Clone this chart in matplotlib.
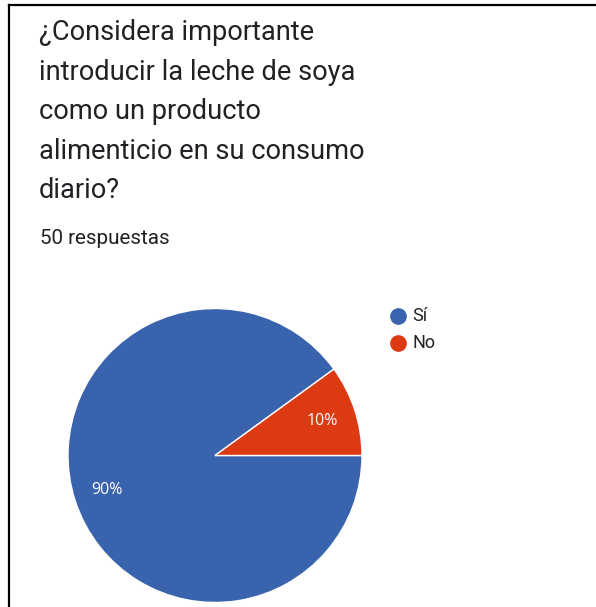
import matplotlib
matplotlib.use("Agg")
import matplotlib.pyplot as plt
from matplotlib.lines import Line2D

# Survey answers
categories = ["Sí", "No"]
shares = [90, 10]
responses = 50
question_lines = [
    "¿Considera importante",
    "introducir la leche de soya",
    "como un producto",
    "alimenticio en su consumo",
    "diario?",
]
slice_colors = ["#3a63ad", "#dc3a12"]

W, H = 596, 607
fig = plt.figure(figsize=(W / 100, H / 100), dpi=100)
fig.patch.set_facecolor("white")

def px(x, y):
    return x / W, 1 - y / H

# Card frame (left and top edges)
fig.add_artist(Line2D([8.5 / W, 8.5 / W], [0, 1 - 4.5 / H], color="black", lw=1.6))
fig.add_artist(Line2D([8.5 / W, 1], [1 - 4.5 / H, 1 - 4.5 / H], color="black", lw=1.6))

# Question text
for i, line in enumerate(question_lines):
    x, y = px(39, 33 + i * 39.4)
    fig.text(x, y, line, family="Roboto", fontsize=19.6, color="#202124",
             ha="left", va="center")

x, y = px(40, 238)
fig.text(x, y, f"{responses} respuestas", family="Roboto", fontsize=14.9,
         color="#202124", ha="left", va="center")

# Pie chart
cx, cy, r = 215, 455.5, 147
ax = fig.add_axes([(cx - r) / W, (H - cy - r) / H, 2 * r / W, 2 * r / H])
wedges, texts, autotexts = ax.pie(
    shares, colors=slice_colors, startangle=36, counterclock=True,
    autopct="%d%%", pctdistance=0.77,
    wedgeprops=dict(edgecolor="white", linewidth=1.0),
    textprops=dict(color="white", family="Open Sans", fontsize=11.5),
    radius=1,
)
ax.set_xlim(-1, 1)
ax.set_ylim(-1, 1)
ax.set_aspect("equal")
ax.axis("off")

# Legend
for i, (cat, col) in enumerate(zip(categories, slice_colors)):
    lx, ly = px(397.5, 316 + i * 26.5)
    fig.add_artist(Line2D([lx], [ly], marker="o", markersize=11,
                          markerfacecolor=col, markeredgecolor=col, linestyle=""))
    tx, ty = px(412, 316 + i * 26.5)
    fig.text(tx, ty, cat, family="Roboto", fontsize=13, color="#222222",
             ha="left", va="center")

fig.savefig("out.png", dpi=100, facecolor="white")
